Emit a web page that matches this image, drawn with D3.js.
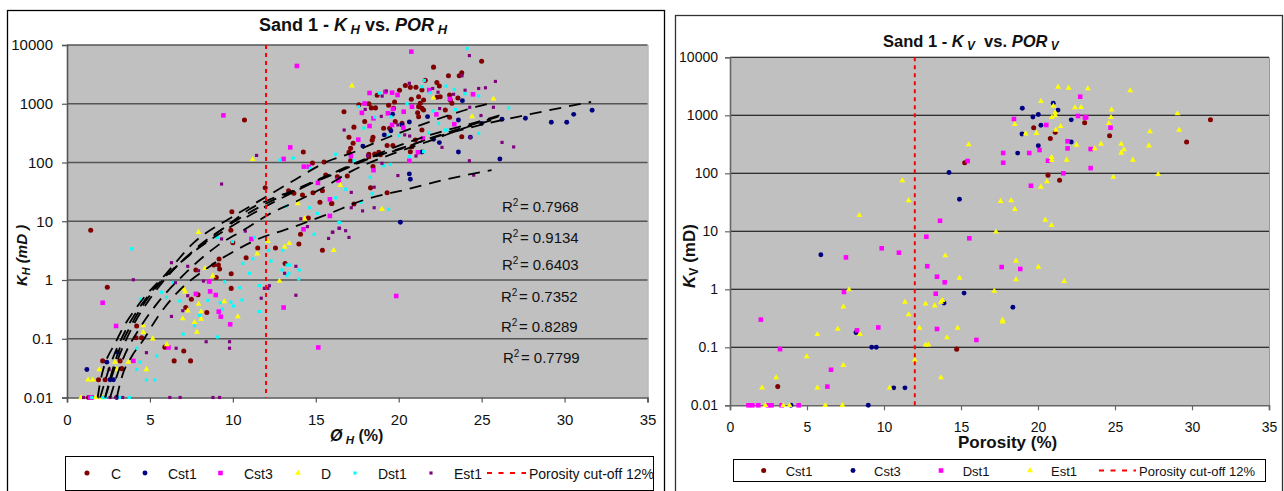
<!DOCTYPE html>
<html>
<head>
<meta charset="utf-8">
<script src="https://cdn.jsdelivr.net/npm/d3@7"></script>
<style>
body { margin: 0; background: #fff; }
svg { display: block; }
text { font-family: "Liberation Sans", Arial, sans-serif; fill: #111; }
</style>
</head>
<body>
<svg id="chart" width="1284" height="491"></svg>
<script>
// values: [porosity %, permeability mD]
var hC = [[1.43,7],[10.7,527],[11.95,37],[9.94,14.5],[9.88,7],[13.36,33],[13.68,30],[14.2,28],[14.83,30.6],[15.4,33],[15.25,21],[15.95,20],[14.55,11.4],[14.08,6],[14.25,151],[14.8,98],[15.5,102],[15.6,61],[16.3,57],[10,4.3],[11.5,3.5],[12.57,3.5],[13.98,4.1],[15.4,3.2],[2.43,.75],[9.17,2.28],[9.13,1.8],[8.85,1.8],[9.2,1.54],[7.77,1.48],[9,1.1],[9.9,1.28],[9.9,.72],[7.9,.56],[7.5,.47],[7.16,.34],[8.43,.28],[4.16,.104],[4.2,.165],[4.5,.104],[5.9,.072],[7.04,.062],[6.46,.042],[7.45,.042],[2.15,.042],[3.2,.042],[1.9,.02],[2.3,.02],[3.3,.031],[1.3,.01],[1.5,.01],[10.8,2.4],[13.15,1.9],[25,5270],[22.1,4200],[23.8,3370],[23.65,3000],[23,3000],[21.6,2500],[22.3,2290],[22.45,2000],[20.4,2050],[20.05,1700],[20.7,1900],[18.7,1400],[19.75,1070],[18.2,1000],[18.35,850],[18.6,850],[17.6,960],[16.7,730],[17.3,400],[17.95,500],[17,270],[17.25,213],[18.45,270],[18.4,240],[19.3,195],[19.65,195],[17.1,174],[17,150],[18.2,138],[18.2,125],[17.1,107],[18.45,85],[18.55,140],[18.8,150],[18.9,135],[16.9,59],[18.3,37],[19.3,30.6],[17.3,19.7],[15.97,20],[23.8,275],[19.39,940],[19.69,835],[19.09,382],[19.45,382],[19.79,496],[20.2,464],[21.2,893],[21.3,1016],[20.76,1190],[21.2,1320],[21.5,1160],[21.4,835],[21.14,705],[21.5,784],[21.2,603],[21.4,357],[21,242],[20.8,186],[20.7,153],[23.07,1410],[23.11,1160],[22.81,784],[23.07,587],[23.57,1250],[23.21,1016],[22.3,1290],[22.5,1320],[21.04,1905],[21.4,1715]];
var hCst1 = [[1.2,.03],[3.04,.059],[2.4,.04],[2.6,.02],[2.8,.02],[3,.01],[31.66,773],[30.55,660],[30.13,483],[29.2,483],[27.64,565],[26.23,543],[26.1,115],[25,464],[24.32,269],[23.6,529],[23.6,151],[23.84,1130],[22.45,218],[22.1,248],[21.74,603],[21.4,151],[20.64,64],[20.7,52],[20.1,9.6],[20.64,490],[20.2,436],[19.63,665],[19.53,347],[19.13,295],[17.84,190]];
var hCst3 = [[9.43,635],[13.86,4400],[13.46,181],[13.06,115],[14.28,85],[14.57,85],[15.13,45],[16.38,50],[15.85,23.6],[15.85,12.3],[14.26,7.3],[11.12,5],[20.76,7700],[18.24,1525],[17.94,1010],[19.19,1590],[19.6,1540],[19.93,1410],[21.84,1710],[24.48,1450],[23.09,1210],[22.27,660],[19.65,815],[19.35,687],[20.3,733],[17.78,700],[18.48,565],[18.24,418],[19.6,436],[20.28,392],[17.56,245],[17.12,129],[18.48,74],[20.64,107],[21.16,149],[21.46,257],[16.37,50],[23.35,448],[20.8,890],[2.15,.41],[2.96,.165],[8.57,.94],[8.63,.64],[7.77,.58],[8.97,.555],[9.15,.29],[9.27,.238],[9.84,.176],[13.06,.34],[6.12,.071],[4,.042],[1.39,.01],[1.5,.01],[15.15,.071],[19.85,.535]];
var hD = [[11.19,113],[7.93,6.5],[12.11,4.55],[13.4,4.2],[13.12,3.65],[16.08,3.2],[13.92,20],[14.32,11],[16.48,41],[17.18,2030],[25.71,1210],[24.42,603],[18.99,16],[22.1,1260],[11.47,2.8],[8.33,1.58],[8.79,1.17],[7.04,.7],[7.12,.63],[7.28,.3],[7.93,.39],[8.09,.29],[8.09,.217],[6.98,.22],[7.69,.19],[7.83,.13],[9.48,.43],[10.3,.238],[12.81,.96],[4.6,.167],[4.6,.129],[5.17,.1],[6.02,.08],[4.79,.03],[1.95,.03],[1.27,.02],[1.55,.02],[2.9,.04],[3.7,.04],[3,.03],[.85,.01],[1.73,.01],[2.1,.01]];
var hDst1 = [[3.9,3.4],[9.07,5.3],[11.3,5.3],[12.84,110],[13.64,119],[16.2,138],[14.67,80],[13.22,18],[14.63,17],[15.09,13.6],[16.2,25],[16.4,9.5],[14.9,6],[9.98,4.5],[24.12,8700],[21.54,2500],[21.4,1950],[18.83,1510],[17.58,890],[18.55,590],[17.9,386],[19.53,600],[20.5,1000],[23.35,1760],[22.85,2000],[21.9,1540],[24.82,1360],[24,1480],[23.43,795],[26.63,850],[22.07,753],[22.4,464],[22.8,357],[22.9,357],[24.82,313],[21.8,322],[20,286],[19.4,282],[21.5,153],[20.64,126],[19.5,93],[19.1,88],[17.3,107],[18.28,56],[16.8,35],[18.4,29.5],[17.72,21],[19.39,16],[16.43,9.6],[10.6,1.92],[11.2,2.3],[11,1.3],[12.3,2.1],[13,3.2],[12.96,1.48],[13.26,1.8],[13.42,1.8],[13.38,1.3],[13.26,1.19],[14,1.48],[13.97,1.04],[12.15,3.2],[11.6,.8],[10.42,.74],[11.6,.29],[10.55,.457],[9.5,.93],[9.88,.42],[9.24,.41],[9.37,.32],[10.04,.36],[8.49,.45],[7.99,.25],[7.69,.167],[6.8,.44],[6,.51],[7,.12],[6.42,.91],[5.7,.62],[4.43,.475],[4.2,.069],[5.41,.051],[4.41,.04],[4.2,.03],[4.79,.02],[5.29,.02],[9.07,.107],[2.17,.01],[2.29,.01],[3.2,.01],[3.76,.01],[1.49,.01]];
var hEst1 = [[11.43,132],[9.32,43],[9.32,5],[10.75,6.8],[14.1,11],[14.5,8.1],[15.77,5.1],[16,6.5],[16.4,7.6],[24.26,6600],[25.83,2400],[23.82,3000],[20.64,2230],[19.25,1650],[19,1350],[22.37,1570],[24,1700],[24.82,1820],[25.23,1870],[23.31,1450],[25.71,870],[24.96,630],[24.28,870],[16.71,357],[17.98,800],[18.95,610],[19.95,436],[20.66,282],[20.36,295],[26.23,220],[26.93,184],[24.26,107],[22.61,181],[21.04,129],[18.12,131],[18.99,97],[19.95,60],[18.52,38],[17.14,31],[17.14,17],[18.52,17],[17.82,15],[24.52,61],[16.43,7.6],[16.8,6.9],[17,5.3],[16.03,6.5],[22.47,830],[22.05,1820],[24.32,269],[6.3,1.97],[7.28,1.71],[7.93,1.44],[4,1.01],[6.54,.9],[8.23,.96],[13.12,1.3],[13.8,1.71],[13.8,.55],[11.9,.72],[12.11,.72],[12.2,.8],[11.71,.49],[7.28,.54],[6.98,.3],[6.3,.24],[8.39,.089],[9.8,.089],[9.8,.069],[6.58,.069],[4.79,.058],[2.54,.03],[1,.01],[2.6,.01],[2.94,.01],[3.36,.01],[6.2,.01],[6.82,.01],[8.8,.01],[9.2,.01]];

// trend curves
var trendA = [[2.3,.01],[3,.04],[4,.17],[5,.48],[6,1.1],[8,3.9],[10,9.5],[12,20],[14,36],[16,62],[18,110],[20,170],[22,260],[25,440],[28,670],[31.6,1080]];
var trendB = [[1.85,.01],[2,.018],[3,.095],[4.4,.41],[6,1.3],[7.6,4.2],[10,12],[12,26],[13.7,50],[15.8,107],[17.1,143],[18.5,213],[21.9,495],[24.7,891],[25.4,1000]];
var trendC = [[2.3,.01],[3,.05],[4,.2],[5.2,.65],[6.5,1.6],[8.6,5],[10,10],[11,16],[12,22],[13.7,34],[15.5,57],[17.2,90],[19.5,170],[21.9,295],[24.5,468],[26.5,687]];
var trendD = [[3,.01],[3.3,.022],[3.9,.05],[4.6,.095],[5.4,.22],[6.5,.55],[8.6,1.7],[10,3],[11.9,5.5],[13.05,7],[15.67,13],[17.9,23],[20.5,35],[22.9,52],[25.6,74]];
var trendE = [[2.6,.01],[3.3,.04],[4.5,.17],[5.5,.42],[7,1.2],[9,3.7],[10.8,7.5],[12.25,13.5],[13.7,21],[15.5,38],[17.1,70],[19.9,150],[22,240],[23.9,380],[26,560]];
var trendF = [[2,.01],[2.6,.035],[3.6,.15],[4.8,.5],[6,1.2],[8,3.6],[10,8.5],[12,18],[14,35],[16,65],[18,115],[20,165],[22,265],[24.2,420],[26.2,630]];

var vCst1 = [[15.24,152],[19.72,612],[21.12,508],[20.8,398],[23.03,746],[24.65,445],[31.2,841],[29.65,347],[20.65,93],[21.4,76],[3.1,.021],[14.72,.093]];
var vCst3 = [[14.22,103],[14.9,35.6],[18.98,1320],[20.99,1610],[21.3,1230],[19.67,933],[20.02,1030],[22.16,835],[20.19,672],[18.96,476],[20.02,299],[18.68,223],[22.16,347],[5.9,3.95],[8.18,.18],[9.2,.1],[9.5,.1],[10.63,.02],[11.36,.02],[8.98,.01],[3.96,.01],[13.9,.58],[15.2,.86],[18.37,.49]];
var vDst1 = [[15.43,163],[13.64,15.2],[12.75,8.07],[15.54,7.57],[9.85,5.1],[10.97,4.28],[7.53,3.55],[12.81,2.5],[13.44,1.65],[13.94,1.32],[13.36,.84],[7.4,.9],[2,.3],[9.63,.22],[8.25,.196],[13.44,.207],[16,.134],[3.25,.093],[6.56,.041],[6.32,.021],[1.2,.01],[1.45,.01],[1.84,.01],[2.47,.01],[2.7,.01],[3.35,.01],[4.46,.01],[17.64,2.42],[18.85,2.24],[22.74,2090],[18.44,863],[22.6,973],[23.05,912],[23.13,930],[20.54,680],[24.71,612],[21.92,356],[21.92,269],[20.1,252],[23.42,262],[17.74,224],[19.43,224],[17.74,152],[20.65,165],[23.42,123],[21.64,100],[19.54,61]];
var vEst1 = [[15.5,312],[11.19,75],[11.6,34],[8.4,18.8],[21.3,3080],[21.99,2960],[23.24,2880],[25.99,2660],[20.19,1740],[21,1450],[22.4,1355],[22.8,1370],[24.78,1250],[21.12,1110],[21.12,986],[20.9,923],[24.74,923],[29.06,1070],[18.5,698],[21.47,646],[24.6,725],[21.16,558],[29.17,558],[19.2,482],[19.9,490],[27.27,522],[22.5,308],[24.09,320],[23.68,266],[25.4,320],[25.58,256],[25.4,224],[27.2,299],[20.88,188],[20.88,167],[21.86,170],[26.16,170],[27.8,96],[24.89,86],[20.58,72],[20.19,58],[17.57,33],[18.26,34],[18.5,24],[20.47,15.7],[20.88,12.7],[17.27,9.8],[18.57,3.08],[20.02,2.42],[18.57,1.47],[21.7,1.37],[17.16,.93],[17.7,.295],[17.7,.275],[13.98,3.8],[14.9,1.57],[11.36,.6],[12.7,.565],[13.29,.52],[13.7,.6],[13.8,.645],[7.36,.5],[7.73,.99],[11.6,.366],[12.3,.215],[7,.207],[5.67,.167],[8.44,.167],[14.78,.215],[14.09,.147],[12.7,.11],[12.88,.11],[4.98,.069],[12,.06],[7.36,.049],[3,.03],[13.7,.03],[2.08,.02],[5.67,.02],[10.37,.02],[2.3,.01],[3.46,.01],[3.87,.01],[6.19,.01],[7.3,.01]];

var yTicks = [0.01, 0.1, 1, 10, 100, 1000, 10000];
var xTicks = [0, 5, 10, 15, 20, 25, 30, 35];
var cutoff = 12;
var cutoffName = "Porosity cut-off 12%";
var r2Labels = ["0.7968", "0.9134", "0.6403", "0.7352", "0.8289", "0.7799"];

var svg = d3.select("#chart");

var marks = {
    circle: { type: d3.symbolCircle, size: 20 },
    diamond: { type: d3.symbolCircle, size: 19 },
    square: { type: d3.symbolSquare, size: 21 },
    triangle: { type: d3.symbolTriangle, size: 15 },
    tiny: { type: d3.symbolSquare, size: 10 }
};
function symbolPath(m) {
    return d3.symbol().type(marks[m].type).size(marks[m].size)();
}

// text made of runs with italic / subscript flags
function rich(sel, runs, size) {
    runs.forEach(function (r) {
        sel.append("tspan")
            .attr("font-style", r.i ? "italic" : "normal")
            .attr("font-size", r.sub ? size * 0.72 : size)
            .attr("dy", r.sub ? 3 : (r.back ? -3 : 0))
            .attr("xml:space", "preserve")
            .text(r.t);
    });
}

function drawPanel(cfg) {
    var g = svg.append("g");

    g.append("rect")
        .attr("x", cfg.frame[0] + 0.5).attr("y", cfg.frame[1] + 0.5)
        .attr("width", cfg.frame[2] - cfg.frame[0]).attr("height", 520)
        .attr("fill", "#fff").attr("stroke", cfg.frameColor).attr("stroke-width", 1.3);

    var x = d3.scaleLinear().domain([0, 35]).range([cfg.left, cfg.right]);
    var y = d3.scaleLog().domain([0.01, 10000]).range([cfg.bottom, cfg.top]);

    g.append("rect")
        .attr("x", cfg.left).attr("y", cfg.top)
        .attr("width", cfg.right - cfg.left).attr("height", cfg.bottom - cfg.top)
        .attr("fill", "#c0c0c0");
    g.append("line")
        .attr("x1", cfg.right + 0.5).attr("x2", cfg.right + 0.5)
        .attr("y1", cfg.top).attr("y2", cfg.bottom)
        .attr("stroke", "#999").attr("stroke-width", 1);

    //  Grid ---
    g.selectAll(".grid").data(yTicks.slice(1)).enter().append("line")
        .attr("class", "grid")
        .attr("x1", cfg.left).attr("x2", cfg.right)
        .attr("y1", function (d) { return y(d); }).attr("y2", function (d) { return y(d); })
        .attr("stroke", cfg.gridColor).attr("stroke-width", cfg.gridWidth);

    //  Axes ---
    var yAxis = g.append("g")
        .attr("transform", "translate(" + cfg.left + ",0)")
        .call(d3.axisLeft(y).tickValues(yTicks).tickSize(5).tickPadding(cfg.yPad)
            .tickFormat(function (d) { return String(d); }));
    var xAxis = g.append("g")
        .attr("transform", "translate(0," + cfg.bottom + ")")
        .call(d3.axisBottom(x).tickValues(xTicks).tickSize(5).tickPadding(cfg.xPad)
            .tickFormat(d3.format("d")));
    [yAxis, xAxis].forEach(function (a) {
        a.selectAll("path").attr("stroke", cfg.axisColor).attr("stroke-width", 1.6);
        a.selectAll("line").attr("stroke", cfg.axisColor).attr("stroke-width", 1.2);
        a.selectAll("text")
            .attr("font-family", "Liberation Sans, Arial, sans-serif")
            .attr("font-size", cfg.tickSize).attr("fill", "#111");
    });

    //  Points ---
    cfg.series.forEach(function (s) {
        g.selectAll(null).data(s.values).enter().append("path")
            .attr("d", symbolPath(s.mark))
            .attr("fill", s.color)
            .attr("transform", function (d) { return "translate(" + x(d[0]) + "," + y(d[1]) + ")"; });
    });

    //  Trend lines ---
    var line = d3.line()
        .x(function (d) { return x(d[0]); })
        .y(function (d) { return y(d[1]); })
        .curve(d3.curveMonotoneX);
    (cfg.trends || []).forEach(function (t) {
        g.append("path")
            .attr("d", line(t))
            .attr("fill", "none").attr("stroke", "#000")
            .attr("stroke-width", 1.8)
            .attr("stroke-dasharray", "12,8");
    });

    //  Cut-off ---
    g.append("line")
        .attr("x1", x(cutoff)).attr("x2", x(cutoff))
        .attr("y1", y(10000)).attr("y2", y(0.01))
        .attr("stroke", "#f00").attr("stroke-width", 2)
        .attr("stroke-dasharray", "4,4");

    //  Titles ---
    g.append("text")
        .attr("x", cfg.titleX).attr("y", cfg.titleY)
        .attr("font-weight", "bold")
        .call(rich, cfg.title, cfg.titleSize);
    g.append("text")
        .attr("x", cfg.xTitleX).attr("y", cfg.xTitleY)
        .attr("font-weight", "bold")
        .call(rich, cfg.xTitle, cfg.xTitleSize);
    g.append("text")
        .attr("transform", "translate(" + cfg.yTitleX + "," + cfg.yTitleY + ") rotate(-90)")
        .attr("font-weight", "bold")
        .call(rich, cfg.yTitle, cfg.yTitleSize);

    //  R2 labels ---
    (cfg.r2 || []).forEach(function (v, i) {
        var t = g.append("text")
            .attr("x", cfg.r2X[i]).attr("y", cfg.r2Y[i])
            .attr("font-size", 15).attr("fill", "#222");
        t.append("tspan").text("R");
        t.append("tspan").attr("font-size", 10).attr("dy", -6).text("2");
        t.append("tspan").attr("dy", 6).attr("dx", 1.5).text("= " + v);
    });

    //  Legend ---
    var lg = cfg.legend;
    g.append("rect")
        .attr("x", lg.x0 + 0.5).attr("y", lg.y0 + 0.5)
        .attr("width", lg.x1 - lg.x0).attr("height", lg.y1 - lg.y0)
        .attr("fill", "#fff").attr("stroke", "#000").attr("stroke-width", 1);
    lg.items.forEach(function (it, i) {
        var s = cfg.series[i];
        g.append("path")
            .attr("d", symbolPath(s.mark))
            .attr("fill", s.color)
            .attr("transform", "translate(" + it[0] + "," + lg.markY + ")");
        g.append("text")
            .attr("x", it[1]).attr("y", lg.baseline)
            .attr("font-size", lg.size).text(s.name);
    });
    g.append("line")
        .attr("x1", lg.dash[0]).attr("x2", lg.dash[1])
        .attr("y1", lg.markY).attr("y2", lg.markY)
        .attr("stroke", "#f00").attr("stroke-width", 2)
        .attr("stroke-dasharray", "5,6.5");
    g.append("text")
        .attr("x", lg.dash[2]).attr("y", lg.baseline)
        .attr("font-size", lg.size).text(cutoffName);
}

drawPanel({
    frame: [7, 10, 664], frameColor: "#000",
    left: 67, right: 647.5, top: 45, bottom: 397.5,
    gridColor: "#555", gridWidth: 1.6, axisColor: "#555",
    tickSize: 15, yPad: 9, xPad: 12,
    series: [
        { name: "C", values: hC, color: "#800000", mark: "circle" },
        { name: "Cst1", values: hCst1, color: "#000080", mark: "diamond" },
        { name: "Cst3", values: hCst3, color: "#ff00ff", mark: "square" },
        { name: "D", values: hD, color: "#ffff00", mark: "triangle" },
        { name: "Dst1", values: hDst1, color: "#00ffff", mark: "tiny" },
        { name: "Est1", values: hEst1, color: "#800080", mark: "tiny" }
    ],
    trends: [trendA, trendB, trendC, trendD, trendE, trendF],
    titleX: 259, titleY: 31, titleSize: 18,
    title: [{ t: "Sand 1 - " }, { t: "K", i: 1 }, { t: " H", i: 1, sub: 1 }, { t: " vs. ", back: 1 }, { t: "POR", i: 1 }, { t: " H", i: 1, sub: 1 }],
    xTitleX: 330, xTitleY: 441, xTitleSize: 16,
    xTitle: [{ t: "Ø", i: 1 }, { t: " H", i: 1, sub: 1 }, { t: " (%)", back: 1 }],
    yTitleX: 27, yTitleY: 286, yTitleSize: 15,
    yTitle: [{ t: "K", i: 1 }, { t: "H", i: 1, sub: 1 }, { t: " (mD )", i: 1, back: 1 }],
    r2: r2Labels,
    r2X: [502, 502, 502, 501, 501, 503],
    r2Y: [212, 243, 270, 302, 332, 363],
    legend: {
        x0: 65, x1: 653, y0: 456, y1: 490, markY: 473, baseline: 478.5, size: 14,
        items: [[87, 111], [145, 168], [220.5, 244], [298, 321], [355, 378], [431, 454]],
        dash: [487, 526, 529]
    }
});

drawPanel({
    frame: [675, 15, 1282], frameColor: "#333",
    left: 730, right: 1269, top: 57.3, bottom: 405.3,
    gridColor: "#000", gridWidth: 1.1, axisColor: "#666",
    tickSize: 14, yPad: 7, xPad: 12,
    series: [
        { name: "Cst1", values: vCst1, color: "#800000", mark: "circle" },
        { name: "Cst3", values: vCst3, color: "#000080", mark: "diamond" },
        { name: "Dst1", values: vDst1, color: "#ff00ff", mark: "square" },
        { name: "Est1", values: vEst1, color: "#ffff00", mark: "triangle" }
    ],
    titleX: 883, titleY: 47, titleSize: 16.5,
    title: [{ t: "Sand 1 - " }, { t: "K", i: 1 }, { t: " V", i: 1, sub: 1 }, { t: "  vs. ", back: 1 }, { t: "POR", i: 1 }, { t: " V", i: 1, sub: 1 }],
    xTitleX: 958, xTitleY: 448, xTitleSize: 17,
    xTitle: [{ t: "Porosity (%)" }],
    yTitleX: 695, yTitleY: 288, yTitleSize: 17,
    yTitle: [{ t: "K", i: 1 }, { t: "V", sub: 1 }, { t: " (mD)", back: 1 }],
    legend: {
        x0: 733, x1: 1265, y0: 459, y1: 481, markY: 470.5, baseline: 476, size: 13,
        items: [[763.7, 785.7], [853, 874], [941, 962.7], [1030, 1051]],
        dash: [1099, 1136, 1139]
    }
});
</script>
</body>
</html>
